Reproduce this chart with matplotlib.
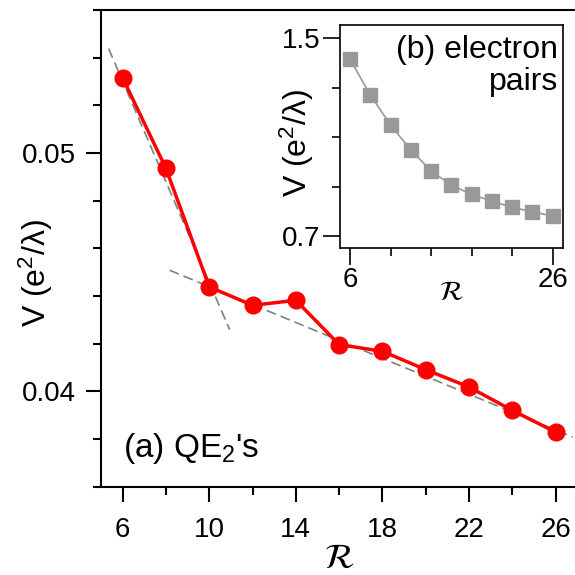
import matplotlib
matplotlib.use("Agg")
import matplotlib.pyplot as plt
from matplotlib.ticker import MultipleLocator, FixedLocator, FormatStrFormatter

plt.rcParams['font.family'] = ['Liberation Sans', 'DejaVu Sans']
plt.rcParams['mathtext.fontset'] = 'custom'
plt.rcParams['mathtext.rm'] = 'Liberation Sans'
plt.rcParams['mathtext.it'] = 'Liberation Sans:italic'

# QE pair energies vs R
r_qe = [6, 8, 10, 12, 14, 16, 18, 20, 22, 24, 26]
v_qe = [0.05315, 0.04935, 0.04438, 0.04361, 0.04382, 0.04196,
        0.04168, 0.04091, 0.04018, 0.03920, 0.03829]

# guide lines for the two regimes
fit1_x = [5.35, 10.94]
fit1_y = [0.05438, 0.04259]
fit2_x = [8.17, 26.79]
fit2_y = [0.04508, 0.03808]

# electron pair energies (inset)
r_el = [6, 8, 10, 12, 14, 16, 18, 20, 22, 24, 26]
v_el = [1.415, 1.270, 1.149, 1.048, 0.963, 0.906, 0.868, 0.841, 0.816, 0.798, 0.781]

ylab = 'V (e$\\mathregular{^2}$/λ)'

fig = plt.figure(figsize=(5.75, 5.75), dpi=100)
ax = fig.add_axes([0.1757, 0.1536, 0.8283, 0.829])

ax.plot(fit1_x, fit1_y, ls=(0, (6, 3)), color='gray', lw=1.2, zorder=1)
ax.plot(fit2_x, fit2_y, ls=(0, (6, 3)), color='gray', lw=1.2, zorder=1)
ax.plot(r_qe, v_qe, '-o', color='red', lw=2.5, ms=12, zorder=2)

ax.set_xlim(5, 27)
ax.set_ylim(0.036, 0.056)
ax.xaxis.set_major_locator(FixedLocator([6, 10, 14, 18, 22, 26]))
ax.xaxis.set_minor_locator(FixedLocator([8, 12, 16, 20, 24]))
ax.yaxis.set_major_locator(FixedLocator([0.04, 0.05]))
ax.yaxis.set_minor_locator(MultipleLocator(0.002))
ax.yaxis.set_major_formatter(FormatStrFormatter('%.2f'))
ax.tick_params(which='both', direction='out', width=1.5, labelsize=20)
ax.tick_params(axis='y', pad=7)
ax.tick_params(axis='x', pad=11)
ax.tick_params(which='major', length=11)
ax.tick_params(which='minor', length=6)
for s in ax.spines.values():
    s.set_linewidth(1.5)

ax.set_ylabel(ylab, fontsize=23)
ax.yaxis.set_label_coords(-0.097, 0.448)
ax.set_xlabel(r'$\mathcal{R}$', fontsize=25, math_fontfamily='stix')
ax.xaxis.set_label_coords(0.5, -0.116)
ax.text(6.0, 0.0376, "(a) QE$\\mathregular{_2}$'s", fontsize=24, va='center', ha='left')

# inset
ins = fig.add_axes([0.5913, 0.5682, 0.3873, 0.3883])
ins.plot(r_el, v_el, '-s', color='#999999', lw=1.2, ms=10)
ins.set_xlim(5, 27)
ins.set_ylim(0.65, 1.554)
ins.xaxis.set_major_locator(FixedLocator([6, 26]))
ins.xaxis.set_minor_locator(FixedLocator([10, 14, 18, 22]))
ins.yaxis.set_major_locator(FixedLocator([0.7, 1.5]))
ins.yaxis.set_minor_locator(FixedLocator([0.9, 1.1, 1.3]))
ins.tick_params(which='both', direction='out', width=1.2, labelsize=20)
ins.tick_params(axis='y', pad=2)
ins.tick_params(axis='x', pad=1.5)
ins.tick_params(which='major', length=12)
ins.tick_params(which='minor', length=6)
for s in ins.spines.values():
    s.set_linewidth(1.2)
ins.set_ylabel(ylab, fontsize=23)
ins.yaxis.set_label_coords(-0.108, 0.472)
ins.set_xlabel(r'$\mathcal{R}$', fontsize=20, math_fontfamily='stix')
ins.xaxis.set_label_coords(0.5, -0.142)
ins.text(0.979, 0.955, '(b) electron\npairs', transform=ins.transAxes,
         ha='right', va='top', fontsize=23, linespacing=1.1)

fig.savefig('out.png', dpi=100)
